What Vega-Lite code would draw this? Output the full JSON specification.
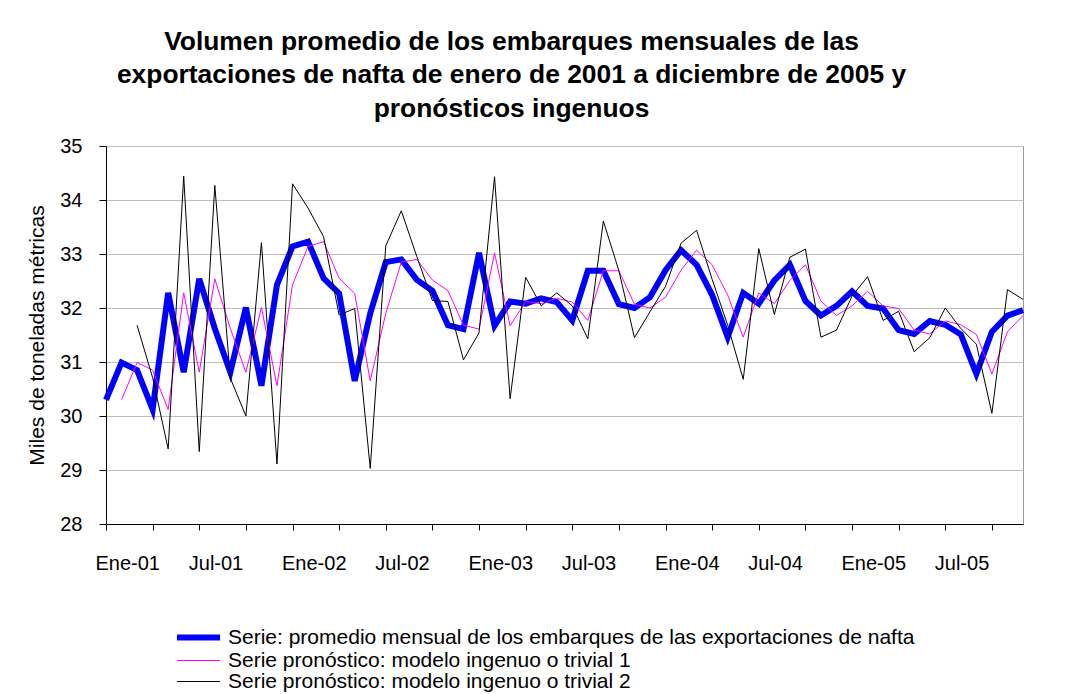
{
  "$schema": "https://vega.github.io/schema/vega-lite/v6.json",
  "width": 917,
  "height": 378,
  "autosize": {"type": "none"},
  "padding": {"left": 106, "top": 146, "right": 42, "bottom": 170},
  "background": "white",
  "title": {
    "text": ["Volumen promedio de los embarques mensuales de las", "exportaciones de nafta de enero de 2001 a diciembre de 2005 y", "pronósticos ingenuos"],
    "fontSize": 26.4,
    "fontWeight": "bold",
    "font": "Liberation Sans",
    "color": "#000000",
    "lineHeight": 33.5,
    "anchor": "middle",
    "frame": "group",
    "dx": -53,
    "offset": 14
  },
  "data": {
    "values": [
      {"mes": "Ene-01", "real": 30.30, "p1": null, "p2": null},
      {"mes": "Feb-01", "real": 30.99, "p1": 30.30, "p2": null},
      {"mes": "Mar-01", "real": 30.85, "p1": 30.99, "p2": 31.68},
      {"mes": "Abr-01", "real": 30.12, "p1": 30.85, "p2": 30.71},
      {"mes": "May-01", "real": 32.28, "p1": 30.12, "p2": 29.39},
      {"mes": "Jun-01", "real": 30.81, "p1": 32.28, "p2": 34.44},
      {"mes": "Jul-01", "real": 32.54, "p1": 30.81, "p2": 29.34},
      {"mes": "Ago-01", "real": 31.62, "p1": 32.54, "p2": 34.27},
      {"mes": "Sep-01", "real": 30.81, "p1": 31.62, "p2": 30.70},
      {"mes": "Oct-01", "real": 32.01, "p1": 30.81, "p2": 30.00},
      {"mes": "Nov-01", "real": 30.56, "p1": 32.01, "p2": 33.21},
      {"mes": "Dic-01", "real": 32.43, "p1": 30.56, "p2": 29.11},
      {"mes": "Ene-02", "real": 33.14, "p1": 32.43, "p2": 34.30},
      {"mes": "Feb-02", "real": 33.23, "p1": 33.14, "p2": 33.85},
      {"mes": "Mar-02", "real": 32.55, "p1": 33.23, "p2": 33.32},
      {"mes": "Abr-02", "real": 32.27, "p1": 32.55, "p2": 31.87},
      {"mes": "May-02", "real": 30.65, "p1": 32.27, "p2": 31.99},
      {"mes": "Jun-02", "real": 31.90, "p1": 30.65, "p2": 29.03},
      {"mes": "Jul-02", "real": 32.85, "p1": 31.90, "p2": 33.15},
      {"mes": "Ago-02", "real": 32.90, "p1": 32.85, "p2": 33.80},
      {"mes": "Sep-02", "real": 32.52, "p1": 32.90, "p2": 32.95},
      {"mes": "Oct-02", "real": 32.32, "p1": 32.52, "p2": 32.14},
      {"mes": "Nov-02", "real": 31.68, "p1": 32.32, "p2": 32.12},
      {"mes": "Dic-02", "real": 31.61, "p1": 31.68, "p2": 31.04},
      {"mes": "Ene-03", "real": 33.02, "p1": 31.61, "p2": 31.54},
      {"mes": "Feb-03", "real": 31.67, "p1": 33.02, "p2": 34.43},
      {"mes": "Mar-03", "real": 32.12, "p1": 31.67, "p2": 30.32},
      {"mes": "Abr-03", "real": 32.08, "p1": 32.12, "p2": 32.57},
      {"mes": "May-03", "real": 32.18, "p1": 32.08, "p2": 32.04},
      {"mes": "Jun-03", "real": 32.11, "p1": 32.18, "p2": 32.28},
      {"mes": "Jul-03", "real": 31.77, "p1": 32.11, "p2": 32.04},
      {"mes": "Ago-03", "real": 32.69, "p1": 31.77, "p2": 31.43},
      {"mes": "Sep-03", "real": 32.69, "p1": 32.69, "p2": 33.61},
      {"mes": "Oct-03", "real": 32.07, "p1": 32.69, "p2": 32.69},
      {"mes": "Nov-03", "real": 32.00, "p1": 32.07, "p2": 31.45},
      {"mes": "Dic-03", "real": 32.20, "p1": 32.00, "p2": 31.93},
      {"mes": "Ene-04", "real": 32.70, "p1": 32.20, "p2": 32.40},
      {"mes": "Feb-04", "real": 33.07, "p1": 32.70, "p2": 33.20},
      {"mes": "Mar-04", "real": 32.80, "p1": 33.07, "p2": 33.44},
      {"mes": "Abr-04", "real": 32.24, "p1": 32.80, "p2": 32.53},
      {"mes": "May-04", "real": 31.46, "p1": 32.24, "p2": 31.68},
      {"mes": "Jun-04", "real": 32.28, "p1": 31.46, "p2": 30.68},
      {"mes": "Jul-04", "real": 32.08, "p1": 32.28, "p2": 33.10},
      {"mes": "Ago-04", "real": 32.51, "p1": 32.08, "p2": 31.88},
      {"mes": "Sep-04", "real": 32.80, "p1": 32.51, "p2": 32.94},
      {"mes": "Oct-04", "real": 32.13, "p1": 32.80, "p2": 33.09},
      {"mes": "Nov-04", "real": 31.86, "p1": 32.13, "p2": 31.46},
      {"mes": "Dic-04", "real": 32.04, "p1": 31.86, "p2": 31.59},
      {"mes": "Ene-05", "real": 32.31, "p1": 32.04, "p2": 32.22},
      {"mes": "Feb-05", "real": 32.04, "p1": 32.31, "p2": 32.58},
      {"mes": "Mar-05", "real": 31.99, "p1": 32.04, "p2": 31.77},
      {"mes": "Abr-05", "real": 31.59, "p1": 31.99, "p2": 31.94},
      {"mes": "May-05", "real": 31.52, "p1": 31.59, "p2": 31.19},
      {"mes": "Jun-05", "real": 31.76, "p1": 31.52, "p2": 31.45},
      {"mes": "Jul-05", "real": 31.69, "p1": 31.76, "p2": 32.00},
      {"mes": "Ago-05", "real": 31.51, "p1": 31.69, "p2": 31.62},
      {"mes": "Sep-05", "real": 30.78, "p1": 31.51, "p2": 31.33},
      {"mes": "Oct-05", "real": 31.56, "p1": 30.78, "p2": 30.05},
      {"mes": "Nov-05", "real": 31.86, "p1": 31.56, "p2": 32.34},
      {"mes": "Dic-05", "real": 31.96, "p1": 31.86, "p2": 32.16}
    ]
  },
  "transform": [{"fold": ["real", "p1", "p2"], "as": ["serie", "valor"]}],
  "mark": {"type": "line"},
  "encoding": {
    "x": {
      "field": "mes",
      "type": "ordinal",
      "sort": null,
      "scale": {"type": "point", "padding": 0},
      "axis": {
        "title": null,
        "values": ["Ene-01","Abr-01","Jul-01","Oct-01","Ene-02","Abr-02","Jul-02","Oct-02","Ene-03","Abr-03","Jul-03","Oct-03","Ene-04","Abr-04","Jul-04","Oct-04","Ene-05","Abr-05","Jul-05","Oct-05"],
        "labelExpr": "(slice(datum.value,0,3) == 'Ene' || slice(datum.value,0,3) == 'Jul') ? datum.value : ''",
        "labelAngle": 0,
        "labelAlign": "left",
        "labelOffset": -11,
        "labelFlush": false,
        "labelOverlap": false,
        "labelBound": false,
        "labelPadding": 23,
        "labelFontSize": 20,
        "labelColor": "#000000",
        "tickSize": 6,
        "tickColor": "#000000",
        "domainColor": "#000000",
        "grid": false
      }
    },
    "y": {
      "field": "valor",
      "type": "quantitative",
      "scale": {"domain": [28, 35], "nice": false, "zero": false},
      "axis": {
        "title": "Miles de toneladas métricas",
        "titleFontSize": 21,
        "titleFontWeight": "normal",
        "titleColor": "#000000",
        "titlePadding": 12,
        "values": [28, 29, 30, 31, 32, 33, 34, 35],
        "labelFontSize": 20,
        "labelColor": "#000000",
        "labelPadding": 17,
        "tickSize": 7,
        "tickColor": "#000000",
        "domainColor": "#000000",
        "grid": true,
        "gridColor": "#bfbfbf"
      }
    },
    "color": {
      "field": "serie",
      "type": "nominal",
      "scale": {"domain": ["real", "p1", "p2"], "range": ["#0000ff", "#ff00ff", "#000000"]},
      "legend": {
        "title": null,
        "orient": "none",
        "legendX": 82,
        "legendY": 481,
        "symbolType": "M-4,0H4",
        "symbolSize": 116,
        "labelFontSize": 21,
        "labelColor": "#000000",
        "labelOffset": 19,
        "labelLimit": 0,
        "rowPadding": -2.5,
        "labelExpr": "datum.value == 'real' ? 'Serie: promedio mensual de los embarques de las exportaciones de nafta' : (datum.value == 'p1' ? 'Serie pronóstico: modelo ingenuo o trivial 1' : 'Serie pronóstico: modelo ingenuo o trivial 2')"
      }
    },
    "strokeWidth": {
      "field": "serie",
      "type": "nominal",
      "scale": {"type": "ordinal", "domain": ["real", "p1", "p2"], "range": [6, 1, 1]},
      "legend": {
        "title": null,
        "orient": "none",
        "legendX": 82,
        "legendY": 481,
        "symbolType": "M-4,0H4",
        "symbolSize": 116,
        "labelFontSize": 21,
        "labelColor": "#000000",
        "labelOffset": 19,
        "labelLimit": 0,
        "rowPadding": -2.5,
        "labelExpr": "datum.value == 'real' ? 'Serie: promedio mensual de los embarques de las exportaciones de nafta' : (datum.value == 'p1' ? 'Serie pronóstico: modelo ingenuo o trivial 1' : 'Serie pronóstico: modelo ingenuo o trivial 2')"
      }
    }
  },
  "config": {
    "font": "Liberation Sans",
    "view": {"stroke": "#999999", "strokeWidth": 1}
  }
}
